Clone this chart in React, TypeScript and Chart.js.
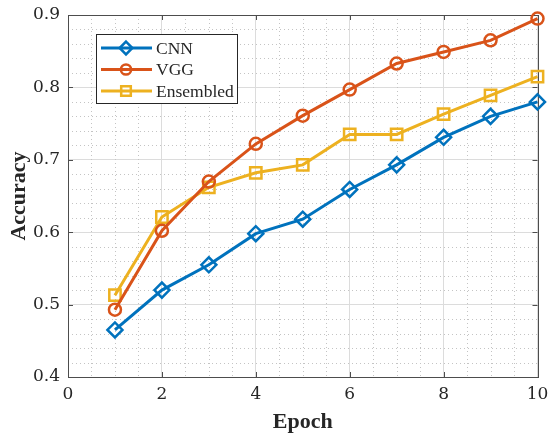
import React, { useEffect, useRef } from 'react';
import { Chart, registerables } from 'chart.js';

Chart.register(...registerables);

const epochs = [1, 2, 3, 4, 5, 6, 7, 8, 9, 10];
const cnnAcc = [0.465, 0.52, 0.555, 0.598, 0.618, 0.659, 0.693, 0.731, 0.76, 0.78];
const vggAcc = [0.493, 0.602, 0.67, 0.722, 0.761, 0.797, 0.833, 0.849, 0.865, 0.895];
const ensAcc = [0.513, 0.621, 0.662, 0.682, 0.693, 0.735, 0.735, 0.763, 0.789, 0.815];
const seriesNames = ['CNN', 'VGG', 'Ensembled'];
const seriesColors = ['#0072BD', '#D95319', '#EDB120'];
const seriesMarkers = ['rectRot', 'circle', 'rect'];
const seriesRadii = [7.5, 6, 8];
const xTickValues = [0, 2, 4, 6, 8, 10];
const yTickValues = [0.4, 0.5, 0.6, 0.7, 0.8, 0.9];

const TICK_FONT = '"DejaVu Serif", serif';
const TEXT_FONT = '"Liberation Serif", serif';

function drawMarker(ctx: CanvasRenderingContext2D, style: string, x: number, y: number, r: number) {
  ctx.beginPath();
  if (style === 'circle') {
    ctx.arc(x, y, r, 0, Math.PI * 2);
  } else if (style === 'rect') {
    const s = Math.SQRT1_2 * r;
    ctx.rect(x - s, y - s, 2 * s, 2 * s);
  } else {
    ctx.moveTo(x, y - r);
    ctx.lineTo(x + r, y);
    ctx.lineTo(x, y + r);
    ctx.lineTo(x - r, y);
    ctx.closePath();
  }
  ctx.stroke();
}

const decorPlugin = {
  id: 'matlabDecor',
  beforeDatasetsDraw(chart: any) {
    const { ctx, chartArea: a, scales } = chart;
    const xs = scales.x;
    const ys = scales.y;
    ctx.save();
    ctx.strokeStyle = '#c4c4c4';
    ctx.lineWidth = 1;
    ctx.setLineDash([1, 3]);
    for (let v = 0.5; v < 10; v += 0.5) {
      if (Math.abs(v / 2 - Math.round(v / 2)) < 1e-6) continue;
      const px = Math.round(xs.getPixelForValue(v)) + 0.5;
      ctx.beginPath();
      ctx.moveTo(px, a.top);
      ctx.lineTo(px, a.bottom);
      ctx.stroke();
    }
    for (let i = 1; i < 25; i++) {
      if (i % 5 === 0) continue;
      const v = 0.4 + i * 0.02;
      const py = Math.round(ys.getPixelForValue(v)) + 0.5;
      ctx.beginPath();
      ctx.moveTo(a.left, py);
      ctx.lineTo(a.right, py);
      ctx.stroke();
    }
    ctx.setLineDash([]);
    ctx.strokeStyle = '#4d4d4d';
    ctx.lineWidth = 1;
    ctx.strokeRect(Math.round(a.left) + 0.5, Math.round(a.top) + 0.5, Math.round(a.right - a.left), Math.round(a.bottom - a.top));
    const tl = 5;
    xTickValues.forEach((v) => {
      const px = Math.round(xs.getPixelForValue(v)) + 0.5;
      ctx.beginPath();
      ctx.moveTo(px, a.bottom);
      ctx.lineTo(px, a.bottom - tl);
      ctx.moveTo(px, a.top);
      ctx.lineTo(px, a.top + tl);
      ctx.stroke();
    });
    yTickValues.forEach((v) => {
      const py = Math.round(ys.getPixelForValue(v)) + 0.5;
      ctx.beginPath();
      ctx.moveTo(a.left, py);
      ctx.lineTo(a.left + tl, py);
      ctx.moveTo(a.right, py);
      ctx.lineTo(a.right - tl, py);
      ctx.stroke();
    });
    ctx.restore();
  },
  afterDatasetsDraw(chart: any) {
    const { ctx } = chart;
    const bx = 96, by = 34, bw = 141, bh = 69;
    ctx.save();
    ctx.fillStyle = '#ffffff';
    ctx.fillRect(bx, by, bw, bh);
    ctx.strokeStyle = '#262626';
    ctx.lineWidth = 1;
    ctx.strokeRect(bx + 0.5, by + 0.5, bw, bh);
    ctx.font = `17.5px ${TEXT_FONT}`;
    ctx.textBaseline = 'middle';
    ctx.textAlign = 'left';
    seriesNames.forEach((name, i) => {
      const y = by + 14 + i * 21.5;
      ctx.strokeStyle = seriesColors[i];
      ctx.lineWidth = 3;
      ctx.beginPath();
      ctx.moveTo(bx + 5, y);
      ctx.lineTo(bx + 56, y);
      ctx.stroke();
      ctx.lineWidth = 2.5;
      drawMarker(ctx, seriesMarkers[i], bx + 30, y, seriesRadii[i] * 0.85);
      ctx.fillStyle = '#262626';
      ctx.fillText(name, bx + 60, y + 1);
    });
    ctx.restore();
  },
};

export default function App() {
  const canvasRef = useRef<HTMLCanvasElement>(null);

  useEffect(() => {
    if (!canvasRef.current) return;
    const seriesData = [cnnAcc, vggAcc, ensAcc];
    const chart = new Chart(canvasRef.current, {
      type: 'scatter',
      data: {
        datasets: seriesNames.map((name, i) => ({
          label: name,
          data: epochs.map((e, j) => ({ x: e, y: seriesData[i][j] })),
          showLine: true,
          borderColor: seriesColors[i],
          backgroundColor: 'rgba(0,0,0,0)',
          borderWidth: 3,
          pointStyle: seriesMarkers[i] as any,
          pointRadius: seriesRadii[i],
          pointBorderWidth: 2.5,
          pointBorderColor: seriesColors[i],
          pointBackgroundColor: 'rgba(0,0,0,0)',
          clip: false as any,
        })),
      },
      options: {
        animation: false,
        responsive: true,
        maintainAspectRatio: false,
        layout: { padding: { top: 15, right: 10, left: 0, bottom: 0 } },
        plugins: {
          legend: { display: false },
          tooltip: { enabled: false },
        },
        scales: {
          x: {
            type: 'linear',
            min: 0,
            max: 10,
            afterFit: (s: any) => {
              s.height = 60;
              s.paddingLeft = 0;
              s.paddingRight = 0;
            },
            afterBuildTicks: (s: any) => {
              s.ticks = xTickValues.map((v) => ({ value: v }));
            },
            ticks: {
              color: '#262626',
              font: { family: TICK_FONT, size: 17 },
              padding: 7,
              maxRotation: 0,
            },
            grid: { color: '#dcdcdc', drawTicks: false, lineWidth: 1 },
            border: { display: false },
            title: {
              display: true,
              text: 'Epoch',
              color: '#262626',
              font: { family: TEXT_FONT, size: 22, weight: 'bold' },
              padding: { top: 0, bottom: 1 },
            },
          },
          y: {
            type: 'linear',
            min: 0.4,
            max: 0.9,
            afterFit: (s: any) => {
              s.width = 68;
              s.paddingTop = 0;
              s.paddingBottom = 0;
            },
            afterBuildTicks: (s: any) => {
              s.ticks = yTickValues.map((v) => ({ value: v }));
            },
            ticks: {
              color: '#262626',
              font: { family: TICK_FONT, size: 17 },
              padding: 8,
              callback: (v: any) => Number(v).toFixed(1),
            },
            grid: { color: '#dcdcdc', drawTicks: false, lineWidth: 1 },
            border: { display: false },
            title: {
              display: true,
              text: 'Accuracy',
              color: '#262626',
              font: { family: TEXT_FONT, size: 22, weight: 'bold' },
              padding: { top: 6, bottom: 0 },
            },
          },
        },
      },
      plugins: [decorPlugin],
    });
    return () => chart.destroy();
  }, []);

  return (
    <div style={{ position: 'absolute', left: 0, top: 0, width: 548, height: 437, background: '#fff' }}>
      <canvas ref={canvasRef} />
    </div>
  );
}
